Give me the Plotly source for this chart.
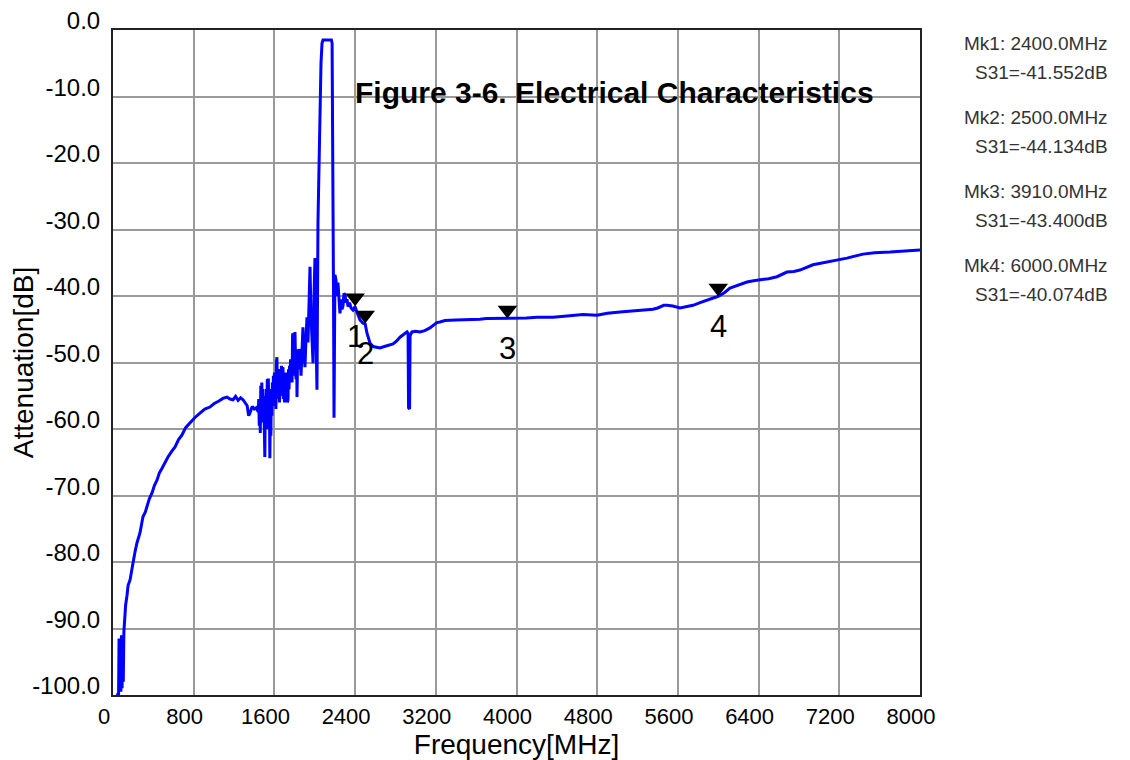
import plotly.graph_objects as go

# ---- data ----
freq_mhz = [
    30, 55, 60, 66, 72, 78, 84, 90, 96, 102, 108, 114,
    119, 125, 139, 150, 169, 185, 198, 218, 238, 268, 297, 320, 337, 360, 387, 410,
    436, 460, 486, 515, 545, 580, 615, 650, 684, 720, 763, 810, 862, 910, 961, 1000,
    1050, 1090, 1130, 1160, 1190, 1215, 1240, 1265, 1289, 1310, 1330, 1345, 1358,
    1380, 1400, 1420, 1440,
    1445, 1450, 1455, 1460, 1465, 1470, 1475, 1480, 1485, 1490, 1495, 1500,
    1505, 1510, 1515, 1520, 1525, 1530, 1535, 1540, 1545, 1550, 1555, 1560,
    1565, 1570, 1575, 1580, 1585, 1590, 1595, 1600, 1605, 1610, 1615, 1620,
    1625, 1630, 1635, 1640, 1645, 1650, 1655, 1660, 1665, 1670, 1675, 1680,
    1685, 1690, 1695, 1700, 1705, 1710, 1715, 1720, 1725, 1730, 1735, 1740,
    1745, 1750, 1755, 1760, 1765, 1770, 1775, 1780, 1784, 1790, 1795, 1800,
    1804, 1810, 1814, 1820, 1824, 1830, 1834,
    1844, 1854, 1864, 1873, 1883, 1893, 1903, 1913,
    1923, 1933, 1943, 1953, 1963, 1973, 1983, 1993, 2002, 2012, 2022, 2032, 2042,
    2052, 2062, 2072, 2082, 2130, 2165, 2172, 2176, 2181, 2186, 2191, 2196, 2200,
    2210, 2220, 2230, 2240, 2250, 2260, 2270, 2280, 2290, 2300, 2310, 2320, 2330,
    2345, 2360, 2379, 2400, 2420, 2449, 2478, 2500, 2518, 2548, 2580, 2617, 2647,
    2690, 2746, 2776, 2810, 2845, 2880, 2915, 2925, 2930, 2940, 2945, 2964, 3000,
    3043, 3090, 3142, 3172, 3210, 3241, 3291, 3400, 3500, 3638, 3700, 3800, 3910,
    4000, 4100, 4200, 4362, 4500, 4659, 4798, 4900, 5026, 5100, 5224, 5353, 5400,
    5423, 5460, 5492, 5550, 5621, 5680, 5750, 5820, 5888, 5950, 6000, 6060, 6116,
    6200, 6285, 6350, 6414, 6500, 6582, 6681, 6750, 6810, 6939, 7050, 7137, 7276,
    7435, 7550, 7703, 7850, 8000,
]
s31_db = [
    -100, -100, -91.5, -99.5, -91.5, -99.5, -91.0, -99.0, -91.0, -98.0, -90.5, -88.0,
    -87.2, -86.5, -85.0, -83.5, -82.7, -81.0, -80.2, -78.5, -77.1, -75.6, -73.2, -72.5, -71.7, -70.5, -69.6, -68.5,
    -67.7, -66.6, -65.9, -65.0, -64.2, -63.4, -62.7, -61.6, -60.9, -59.8, -59.0, -58.3, -57.6, -57.0, -56.7, -56.2,
    -55.8, -55.4, -55.2, -55.5, -55.6, -55.1, -55.7, -55.3, -55.6, -56.0, -56.5, -58.0, -57.6,
    -56.6, -57.0, -56.8, -57.4,
    -55.5, -59.5, -56.0, -60.6, -53.5, -58.0, -53.0, -57.0, -54.0, -59.0, -55.0, -61.0,
    -64.2, -56.0, -60.0, -54.0, -57.0, -52.5, -58.0, -52.4, -60.0, -56.0, -64.4, -57.0,
    -61.0, -54.0, -58.0, -53.0, -56.5, -52.0, -55.5, -51.5, -56.0, -53.0, -57.0, -50.0,
    -49.2, -55.0, -51.0, -55.5, -52.0, -56.0, -54.6, -51.0, -54.0, -50.5, -55.0, -51.0,
    -50.7, -55.5, -52.0, -56.0, -52.5, -55.0, -51.5, -54.5, -52.0, -56.0, -55.6, -51.0,
    -54.0, -50.5, -53.0, -49.5, -52.5, -50.0, -53.0, -46.0, -45.6, -51.0, -49.0, -52.0,
    -45.4, -50.0, -52.5, -48.0, -55.2, -49.0, -51.0,
    -48.0, -48.6, -52.0, -49.0, -44.7, -48.5, -50.7, -46.5,
    -43.2, -47.0, -41.0, -35.6, -43.0, -48.1, -50.1, -40.0, -34.3, -45.0, -54.1, -28.9, -20.0,
    -11.6, -5.0, -2.0, -1.5, -1.5, -1.5, -2.0, -10.0, -15.5, -40.0, -58.3, -45.0, -36.8,
    -37.5, -40.0, -38.0, -41.5, -42.6, -40.5, -42.0, -41.5, -39.6, -39.8, -41.0, -40.5, -41.6,
    -41.0, -41.8, -42.1, -41.6, -42.5, -43.6, -44.1, -44.2, -45.6, -47.1, -47.6, -47.7, -47.8,
    -47.6, -47.4, -47.2, -46.8, -46.2, -45.8, -45.4, -45.6, -56.8, -57.0, -46.0, -45.4, -45.3,
    -45.4, -45.2, -44.8, -44.4, -44.0, -43.9, -43.7, -43.6, -43.6, -43.5, -43.4, -43.4, -43.4,
    -43.3, -43.3, -43.2, -43.2, -43.0, -42.8, -42.9, -42.6, -42.4, -42.3, -42.1, -42.0, -41.8,
    -41.6, -41.4, -41.4, -41.5, -41.8, -41.6, -41.4, -41.0, -40.6, -40.3, -40.07, -39.5, -38.8,
    -38.3, -37.9, -37.7, -37.6, -37.4, -37.1, -36.4, -36.3, -36.1, -35.3, -35.0, -34.7, -34.3,
    -33.7, -33.5, -33.4, -33.2, -33.1,
]

marker_ids = [1, 2, 3, 4]
marker_freq = [2400.0, 2500.0, 3910.0, 6000.0]
marker_s31 = [-41.552, -44.134, -43.400, -40.074]

x_ticks = [0, 800, 1600, 2400, 3200, 4000, 4800, 5600, 6400, 7200, 8000]
y_ticks = [0, -10, -20, -30, -40, -50, -60, -70, -80, -90, -100]

FONT = "Liberation Sans, Arial, sans-serif"

# page geometry (the page body adds an 8px margin around the figure)
BODY = 8
W, H = 1130 - BODY, 760 - BODY
plot_l, plot_r, plot_t, plot_b = 113, 920, 30, 695   # in page pixels


def px(xp):
    return (xp - plot_l) / (plot_r - plot_l)


def py(yp):
    return (plot_b - yp) / (plot_b - plot_t)


fig = go.Figure()
fig.add_trace(go.Scatter(
    x=freq_mhz, y=s31_db, mode="lines",
    line=dict(color="#0000FF", width=3),
    hoverinfo="skip", showlegend=False,
))
# downward triangles whose tip sits on the marker point
fig.add_trace(go.Scatter(
    x=marker_freq, y=marker_s31, mode="markers",
    marker=dict(symbol="triangle-up", size=17, color="#000000",
                angle=180, standoff=8.5, line=dict(width=0)),
    showlegend=False, hoverinfo="skip",
))

annotations = []
for mid, f, v in zip(marker_ids, marker_freq, marker_s31):
    annotations.append(dict(
        x=f, y=v, xref="x", yref="y", text=str(mid), showarrow=False,
        yshift=-30, font=dict(family=FONT, size=31, color="#000000"),
    ))

# marker readouts on the right
for i, (mid, f, v) in enumerate(zip(marker_ids, marker_freq, marker_s31)):
    top = 44 + i * 73.7
    annotations.append(dict(
        x=px(1110), y=py(top), xref="paper", yref="paper",
        text=f"Mk{mid}: {f:.1f}MHz", showarrow=False, xanchor="right", yanchor="middle",
        font=dict(family=FONT, size=19, color="#333333"),
    ))
    annotations.append(dict(
        x=px(1110), y=py(top + 29), xref="paper", yref="paper",
        text=f"S31={v:.3f}dB", showarrow=False, xanchor="right", yanchor="middle",
        font=dict(family=FONT, size=19, color="#333333"),
    ))

annotations.append(dict(
    x=px(614), y=py(93), xref="paper", yref="paper",
    text="<b>Figure 3-6. Electrical Characteristics</b>",
    showarrow=False, xanchor="center", yanchor="middle",
    font=dict(family=FONT, size=30, color="#000000"),
))

fig.update_layout(
    width=W, height=H,
    margin=dict(l=plot_l - BODY, r=W - (plot_r - BODY), t=plot_t - BODY, b=H - (plot_b - BODY)),
    paper_bgcolor="white", plot_bgcolor="white",
    font=dict(family=FONT, color="#000000"),
    annotations=annotations,
    showlegend=False,
)
fig.update_xaxes(
    range=[0, 8000], tickvals=x_ticks, ticktext=[str(t) for t in x_ticks],
    showgrid=True, gridcolor="#9a9a9a", gridwidth=1.8,
    showline=True, linecolor="#222222", linewidth=2, mirror=True,
    zeroline=False, ticks="", ticklabelstandoff=1, ticklabelshift=-9,
    tickfont=dict(family=FONT, size=22, color="#000000"),
    title=dict(text="Frequency[MHz]", font=dict(family=FONT, size=28, color="#000000"), standoff=2),
    automargin=False,
)
fig.update_yaxes(
    range=[-100, 0], tickvals=y_ticks, ticktext=[f"{t:.1f}" for t in y_ticks],
    showgrid=True, gridcolor="#9a9a9a", gridwidth=1.8,
    showline=True, linecolor="#222222", linewidth=2, mirror=True,
    zeroline=False, ticks="", ticklabelstandoff=6, ticklabelshift=-9,
    ticklabeloverflow="allow",
    tickfont=dict(family=FONT, size=24, color="#000000"),
    title=dict(text="Attenuation[dB]", font=dict(family=FONT, size=28, color="#000000"), standoff=4),
    automargin=False,
)

fig.write_html("out.html")
